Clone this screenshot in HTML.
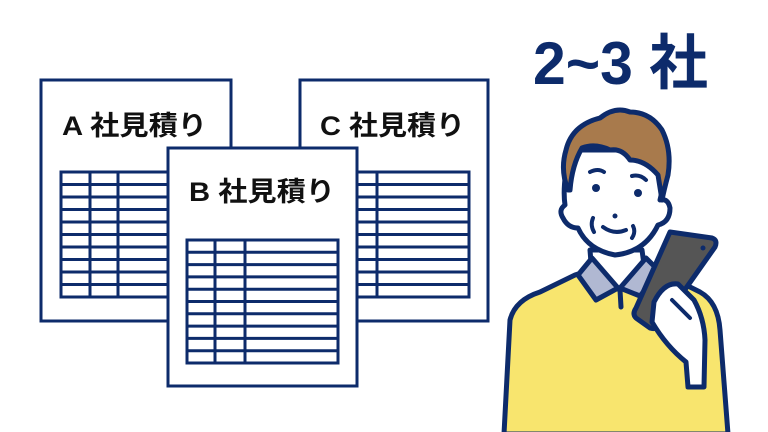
<!DOCTYPE html>
<html><head><meta charset="utf-8"><style>
html,body{margin:0;padding:0;background:#fff;width:768px;height:432px;overflow:hidden}
svg{display:block}
text{font-family:"Liberation Sans","Noto Sans CJK JP",sans-serif;font-weight:bold}
</style></head><body>
<svg width="768" height="432" viewBox="0 0 768 432" xmlns="http://www.w3.org/2000/svg">
<!-- Doc A -->
<rect x="41" y="80" width="190" height="241" fill="#fff" stroke="#0d2b6b" stroke-width="3"/>
<text x="62" y="135" font-size="27" fill="#111" textLength="145" lengthAdjust="spacingAndGlyphs">A 社見積り</text>
<g stroke="#0d2b6b" stroke-width="3" fill="none">
<rect x="61" y="172" width="120" height="125"/>
<line x1="90" y1="172" x2="90" y2="297"/><line x1="118" y1="172" x2="118" y2="297"/>
<path d="M61 184.5H181M61 197H181M61 209.5H181M61 222H181M61 234.5H181M61 247H181M61 259.5H181M61 272H181M61 284.5H181"/>
</g>
<!-- Doc C -->
<rect x="300" y="80" width="188" height="241" fill="#fff" stroke="#0d2b6b" stroke-width="3"/>
<text x="320" y="135" font-size="27" fill="#111" textLength="145" lengthAdjust="spacingAndGlyphs">C 社見積り</text>
<g stroke="#0d2b6b" stroke-width="3" fill="none">
<rect x="340" y="172" width="129" height="125"/>
<line x1="377" y1="172" x2="377" y2="297"/>
<path d="M340 184.5H469M340 197H469M340 209.5H469M340 222H469M340 234.5H469M340 247H469M340 259.5H469M340 272H469M340 284.5H469"/>
</g>
<!-- Doc B -->
<rect x="168" y="148" width="189" height="238" fill="#fff" stroke="#0d2b6b" stroke-width="3"/>
<text x="189" y="201" font-size="27" fill="#111" textLength="146" lengthAdjust="spacingAndGlyphs">B 社見積り</text>
<g stroke="#0d2b6b" stroke-width="3" fill="none">
<rect x="187" y="240" width="151" height="123"/>
<line x1="215" y1="240" x2="215" y2="363"/><line x1="245" y1="240" x2="245" y2="363"/>
<path d="M187 252.3H338M187 264.6H338M187 276.9H338M187 289.2H338M187 301.5H338M187 313.8H338M187 326.1H338M187 338.4H338M187 350.7H338"/>
</g>
<!-- title -->
<text x="533" y="84" font-size="60" fill="#0d2b6b" textLength="175" lengthAdjust="spacingAndGlyphs">2~3 社</text>
<!-- person -->
<g stroke="#0d2b6b" stroke-width="5" stroke-linejoin="round" stroke-linecap="round">
<path d="M504 434 L510 320 Q515 300 540 292 L575 275 L615 262 L660 272 L700 292 Q718 302 720 330 L728 434 Z" fill="#f8e56e"/>
<path d="M590 250 L592 275 L620 290 L645 272 L642 250 Z" fill="#fff"/>
<path d="M578 275 L592 258 L618 288 L596 300 Z" fill="#b0b8d2"/>
<path d="M646 258 L660 272 L640 296 L620 288 Z" fill="#b0b8d2"/>
<line x1="620" y1="290" x2="621" y2="307"/>
<path d="M570 150 Q562 185 565 205 Q558 210 563 218 Q568 228 578 228 Q588 250 615 255 Q645 252 658 225 Q670 222 670 208 Q668 198 660 200 Q668 170 660 150 Z" fill="#fff"/>
<path d="M568 190 Q560 170 566 150 Q572 125 600 118 Q615 106 630 112 Q650 112 662 130 Q672 150 668 175 Q664 190 662 200 L658 175 Q645 160 630 160 Q622 148 610 150 Q595 143 582 148 Q572 165 570 190 Z" fill="#a87a4c"/>
<path d="M670 232 L712 238 Q718 240 715 247 L660 325 Q656 330 650 328 L636 318 Q632 314 636 308 Z" fill="#555"/>
<path d="M654 302 Q664 282 678 284 L694 300 Q704 318 705 340 L704 387 L688 387 L686 362 Q666 346 652 322 Z" fill="#fff"/>
</g>
<g fill="#0d2b6b">
<circle cx="596" cy="188" r="4"/><circle cx="638" cy="193" r="4"/><circle cx="615" cy="216" r="2.5"/>
<circle cx="703" cy="248" r="2.5"/>
</g>
<g stroke="#0d2b6b" stroke-width="4" fill="none" stroke-linecap="round">
<path d="M590 172 Q598 168 604 172"/><path d="M632 176 Q640 174 646 180"/>
<path d="M603 227 Q614 235 626 230"/>
<path d="M593 218 Q590 225 594 232"/><path d="M633 226 Q636 232 632 238"/>
<path d="M672 300 L690 318"/>
</g>
</svg>
</body></html>
